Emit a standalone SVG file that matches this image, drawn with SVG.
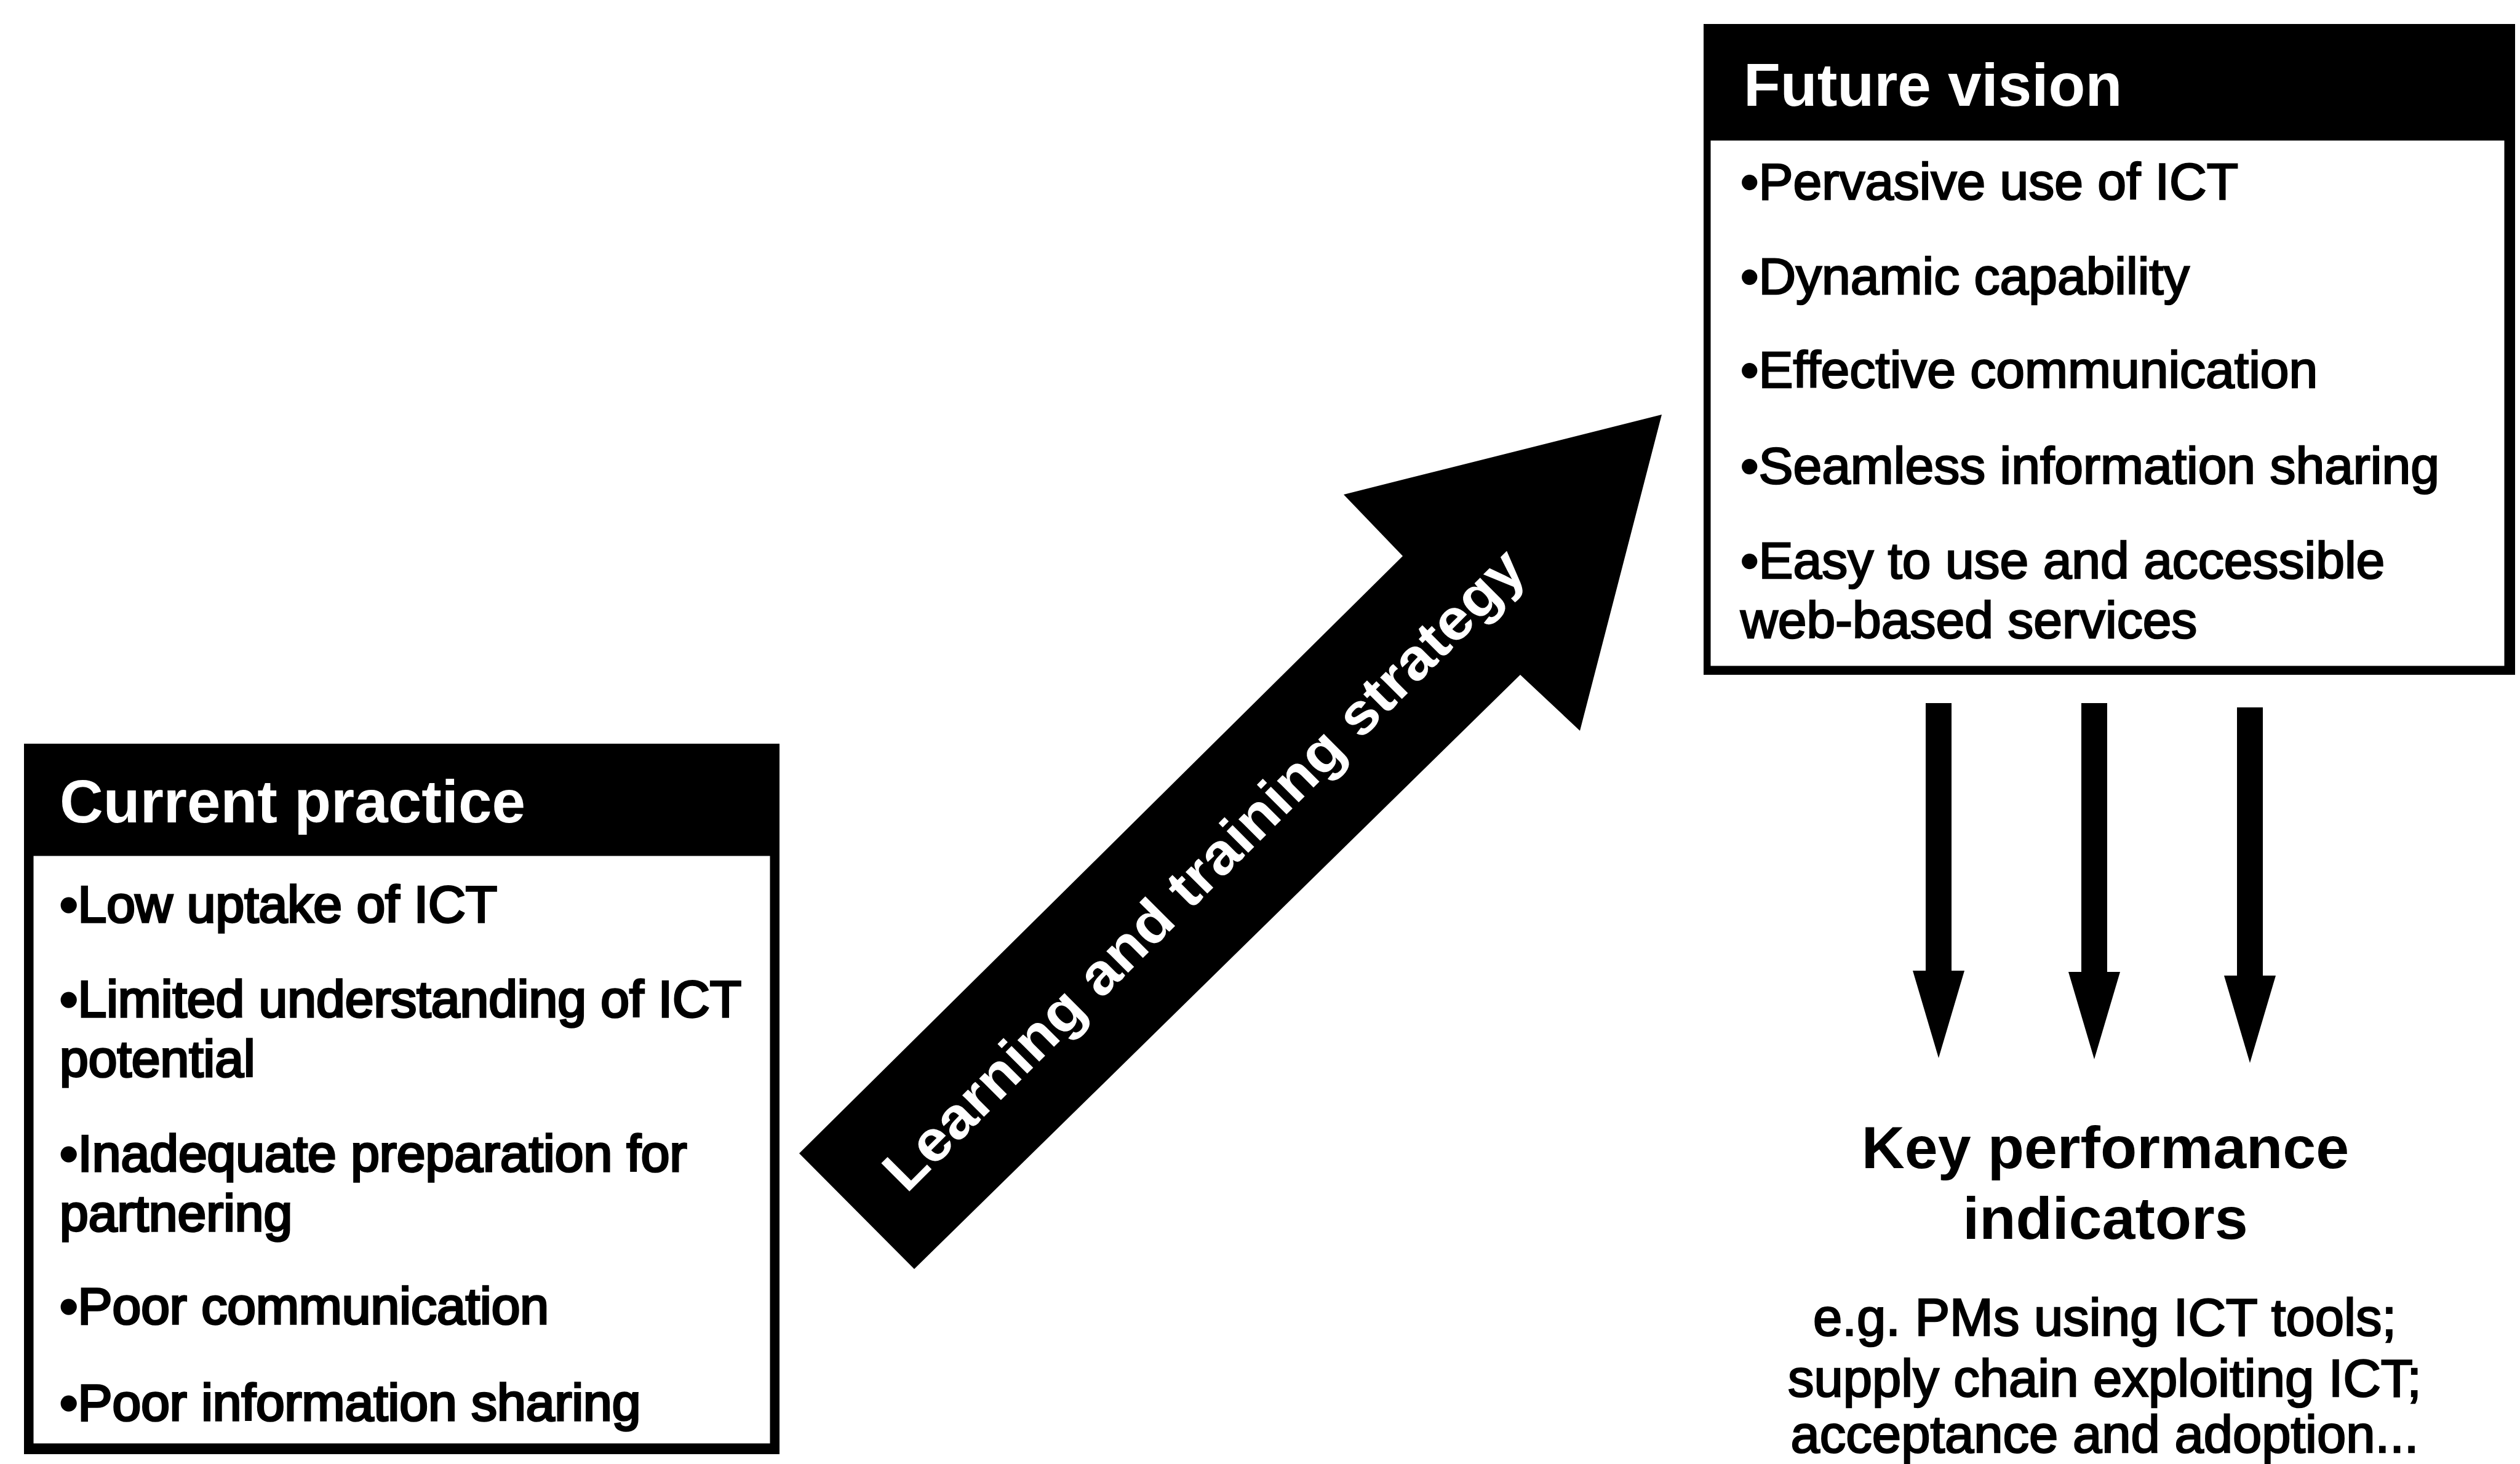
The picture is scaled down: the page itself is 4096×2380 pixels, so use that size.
<svg xmlns="http://www.w3.org/2000/svg" width="4096" height="2380" viewBox="0 0 4096 2380">
  <defs>
    <style>
      .sans { font-family: "Liberation Sans", Arial, Helvetica, sans-serif; }
      .hdr { font-weight: bold; font-size: 98px; fill: #fff; }
      .item { font-size: 84px; fill: #000; stroke: #000; stroke-width: 2.5; }
      .cp .item { stroke-width: 3.5; }
      .frame { fill: #000; }
      .body { fill: #fff; stroke: #000; stroke-width: 3; }
      .kpi-title { font-weight: bold; font-size: 97px; fill: #000; }
      .kpi-note { font-size: 85px; fill: #000; stroke: #000; stroke-width: 2.5; }
      .down { stroke: #000; stroke-width: 42; fill: none; }
      .big-label { font-weight: bold; font-size: 94px; fill: #fff; }
    </style>
    <marker id="downHead" markerUnits="userSpaceOnUse" markerWidth="142" markerHeight="84"
            viewBox="0 0 142 84" refX="0" refY="42" orient="auto">
      <path d="M0,0 L142,42 L0,84 Z" fill="#000"/>
    </marker>
  </defs>

  <rect width="4096" height="2380" fill="#fff"/>

  <!-- Left panel: current practice -->
  <g id="current-practice" class="sans cp">
    <rect class="frame" x="39" y="1209" width="1228" height="1155"/>
    <rect class="body" x="53" y="1390" width="1200" height="958"/>
    <text class="hdr" x="97" y="1337">Current practice</text>
    <text class="item" x="97" y="1499">•Low uptake of ICT</text>
    <text class="item" x="97" y="1653">•Limited understanding of ICT</text>
    <text class="item" x="97" y="1750">potential</text>
    <text class="item" x="97" y="1904">•Inadequate preparation for</text>
    <text class="item" x="97" y="2001">partnering</text>
    <text class="item" x="97" y="2152">•Poor communication</text>
    <text class="item" x="97" y="2309">•Poor information sharing</text>
  </g>

  <!-- Right panel: future vision -->
  <g id="future-vision" class="sans">
    <rect class="frame" x="2769" y="39" width="1319" height="1058"/>
    <rect class="body" x="2779" y="227" width="1293" height="857"/>
    <text class="hdr" x="2834" y="172">Future vision</text>
    <text class="item" x="2829" y="324">•Pervasive use of ICT</text>
    <text class="item" x="2829" y="478">•Dynamic capability</text>
    <text class="item" x="2829" y="630">•Effective communication</text>
    <text class="item" x="2829" y="786">•Seamless information sharing</text>
    <text class="item" x="2829" y="940">•Easy to use and accessible</text>
    <text class="item" x="2829" y="1037">web-based services</text>
  </g>

  <!-- Indicators block under the vision panel -->
  <g id="kpi" class="sans" text-anchor="middle">
    <text class="kpi-title" x="3422" y="1899">Key performance</text>
    <text class="kpi-title" x="3422" y="2014">indicators</text>
    <text class="kpi-note" x="3421" y="2171">e.g. PMs using ICT tools;</text>
    <text class="kpi-note" x="3421" y="2270">supply chain exploiting ICT;</text>
    <text class="kpi-note" x="3421" y="2361">acceptance and adoption...</text>
  </g>

  <g id="connectors">
    <!-- broad diagonal arrow from current practice towards future vision -->
    <g id="strategy-arrow">
      <path d="M1299,1875 L2280,904 L2184,804 L2701,674 L2568,1188 L2471,1097 L1486,2063 Z" fill="#000"/>
      <g transform="translate(1955,1412) rotate(-45)">
        <text class="sans big-label" x="0" y="34" text-anchor="middle" textLength="1430" lengthAdjust="spacingAndGlyphs">Learning and training strategy</text>
      </g>
    </g>
    <!-- three arrows from the vision panel down to the indicators -->
    <line class="down" x1="3151" y1="1143" x2="3151" y2="1578" marker-end="url(#downHead)"/>
    <line class="down" x1="3404" y1="1143" x2="3404" y2="1580" marker-end="url(#downHead)"/>
    <line class="down" x1="3657" y1="1150" x2="3657" y2="1586" marker-end="url(#downHead)"/>
  </g>
</svg>
